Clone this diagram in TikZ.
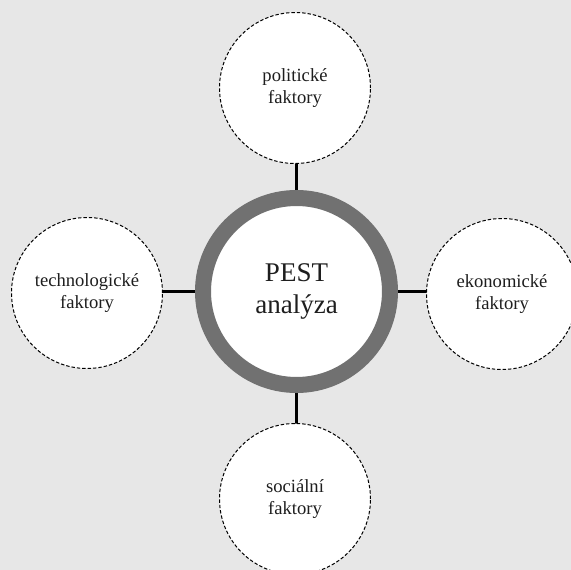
\documentclass[tikz,border=0pt]{standalone}
\usepackage{fontspec}
\setmainfont{Liberation Serif}
\usetikzlibrary{backgrounds}
\definecolor{bggray}{HTML}{E7E7E7}
\definecolor{ringgray}{HTML}{717171}
\definecolor{inkc}{HTML}{1E1E1E}
\begin{document}
\begin{tikzpicture}[x=1pt,y=-1pt,
  factor/.style={circle,draw=black,dashed,dash pattern=on 3.4pt off 2pt,line width=1pt,
    fill=white,minimum size=151pt,inner sep=0pt,align=center,text=inkc,
    font=\fontsize{18.6}{21.5}\selectfont},
  core/.style={circle,draw=ringgray,line width=16pt,fill=white,minimum size=187pt,
    inner sep=0pt,align=center,text=inkc,font=\fontsize{27}{32}\selectfont},
  link/.style={line width=3pt,black}]
\useasboundingbox (0,0) rectangle (571,570);
\node[core] (pest) at (296.5,291.5) {PEST\\analýza};
\node[factor] (pol) at (295,88) {politické\\faktory};
\node[factor] (eko) at (502,294) {ekonomické\\faktory};
\node[factor] (soc) at (295,499) {sociální\\faktory};
\node[factor] (tech) at (87,293) {technologické\\faktory};
\begin{scope}[on background layer]
  \fill[bggray] (0,0) rectangle (571,570);
  \draw[link] (pest.center) -- (pest.center |- pol.center);
  \draw[link] (pest.center) -- (pest.center |- soc.center);
  \draw[link] (pest.center) -- (tech.center |- pest.center);
  \draw[link] (pest.center) -- (eko.center |- pest.center);
\end{scope}
\end{tikzpicture}
\end{document}
